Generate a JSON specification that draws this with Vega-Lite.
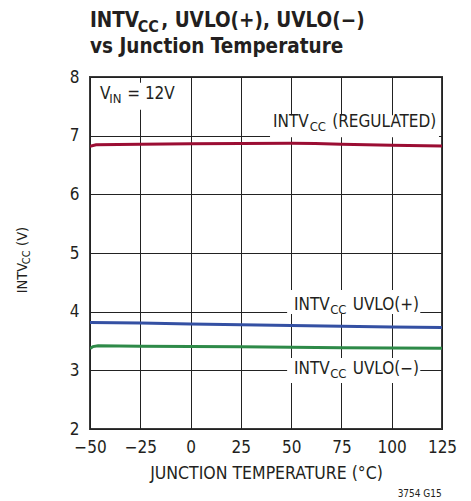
{
  "$schema": "https://vega.github.io/schema/vega-lite/v6.json",
  "autosize": {"type": "none"},
  "padding": {"left": 90, "top": 77, "right": 29, "bottom": 72},
  "width": 352,
  "height": 352,
  "background": "white",
  "config": {
    "view": {"stroke": "#3a3a3a", "strokeWidth": 2},
    "font": "DejaVu Sans Condensed, Roboto, sans-serif",
    "text": {"font": "DejaVu Sans Condensed, Roboto, sans-serif", "color": "#231f20"}
  },
  "datasets": {
    "curves": [
      {"series": "REG", "temp": -50, "v": 6.82},
      {"series": "REG", "temp": -47, "v": 6.845},
      {"series": "REG", "temp": -25, "v": 6.855},
      {"series": "REG", "temp": 0, "v": 6.862},
      {"series": "REG", "temp": 25, "v": 6.868},
      {"series": "REG", "temp": 50, "v": 6.872},
      {"series": "REG", "temp": 62, "v": 6.866},
      {"series": "REG", "temp": 75, "v": 6.852},
      {"series": "REG", "temp": 100, "v": 6.836},
      {"series": "REG", "temp": 125, "v": 6.824},
      {"series": "UVLO+", "temp": -50, "v": 3.817},
      {"series": "UVLO+", "temp": -25, "v": 3.806},
      {"series": "UVLO+", "temp": 0, "v": 3.79},
      {"series": "UVLO+", "temp": 25, "v": 3.776},
      {"series": "UVLO+", "temp": 50, "v": 3.764},
      {"series": "UVLO+", "temp": 75, "v": 3.753},
      {"series": "UVLO+", "temp": 100, "v": 3.74},
      {"series": "UVLO+", "temp": 125, "v": 3.728},
      {"series": "UVLO-", "temp": -50, "v": 3.37},
      {"series": "UVLO-", "temp": -48.5, "v": 3.405},
      {"series": "UVLO-", "temp": -46, "v": 3.418},
      {"series": "UVLO-", "temp": -25, "v": 3.412},
      {"series": "UVLO-", "temp": 0, "v": 3.406},
      {"series": "UVLO-", "temp": 25, "v": 3.40},
      {"series": "UVLO-", "temp": 50, "v": 3.393},
      {"series": "UVLO-", "temp": 75, "v": 3.387},
      {"series": "UVLO-", "temp": 100, "v": 3.382},
      {"series": "UVLO-", "temp": 125, "v": 3.376}
    ],
    "boxes": [
      {"t1": -47.5, "t2": -7.7, "v1": 7.9, "v2": 7.44},
      {"t1": 39.5, "t2": 123.5, "v1": 7.35, "v2": 6.975},
      {"t1": 48, "t2": 114.2, "v1": 4.37, "v2": 3.96},
      {"t1": 48, "t2": 114.2, "v1": 3.21, "v2": 2.785}
    ],
    "labels": [
      {"role": "title", "text": "INTV", "temp": -50, "v": 8.857},
      {"role": "titlesub", "text": "CC", "temp": -26.3, "v": 8.857},
      {"role": "title", "text": ", UVLO(+), UVLO(−)", "temp": -14.6, "v": 8.857},
      {"role": "title", "text": "vs Junction Temperature", "temp": -50, "v": 8.404},
      {"role": "label", "text": "V", "temp": -45.0, "v": 7.62},
      {"role": "labelsub", "text": "IN", "temp": -40.4, "v": 7.62},
      {"role": "label", "text": "= 12V", "temp": -31.5, "v": 7.62},
      {"role": "label", "text": "INTV", "temp": 41.0, "v": 7.153},
      {"role": "labelsub", "text": "CC", "temp": 59.2, "v": 7.153},
      {"role": "label", "text": "(REGULATED)", "temp": 70.4, "v": 7.153},
      {"role": "label", "text": "INTV", "temp": 51.4, "v": 4.03},
      {"role": "labelsub", "text": "CC", "temp": 69.4, "v": 4.03},
      {"role": "label", "text": "UVLO(+)", "temp": 80.6, "v": 4.03},
      {"role": "label", "text": "INTV", "temp": 51.4, "v": 2.937},
      {"role": "labelsub", "text": "CC", "temp": 69.4, "v": 2.937},
      {"role": "label", "text": "UVLO(−)", "temp": 80.6, "v": 2.937},
      {"role": "ytitle", "text": "INTV", "temp": -81.5, "v": 4.313},
      {"role": "ytitlesub", "text": "CC", "temp": -81.5, "v": 4.81},
      {"role": "ytitle", "text": "(V)", "temp": -81.5, "v": 5.12},
      {"role": "code", "text": "3754 G15", "temp": 124.9, "v": 0.846}
    ]
  },
  "layer": [
    {
      "data": {"name": "curves"},
      "mark": {"type": "line", "strokeWidth": 3, "clip": true},
      "encoding": {
        "x": {
          "field": "temp", "type": "quantitative",
          "scale": {"domain": [-50, 125], "nice": false, "zero": false},
          "axis": {
            "values": [-50, -25, 0, 25, 50, 75, 100, 125],
            "labelExpr": "datum.value < 0 ? '−' + abs(datum.value) : datum.value",
            "title": "JUNCTION TEMPERATURE (°C)",
            "titleFont": "DejaVu Sans Condensed, Roboto, sans-serif", "titleFontWeight": "normal", "titleFontSize": 17.5, "titleColor": "#231f20",
            "titlePadding": 9,
            "labelFont": "DejaVu Sans Condensed, Roboto, sans-serif", "labelFontSize": 17, "labelColor": "#231f20",
            "labelPadding": 10, "ticks": false, "domain": false,
            "grid": true, "gridColor": "#222222", "gridWidth": 1, "gridOpacity": 1,
            "labelOverlap": false, "labelFlush": false
          }
        },
        "y": {
          "field": "v", "type": "quantitative",
          "scale": {"domain": [2, 8], "nice": false, "zero": false},
          "axis": {
            "values": [2, 3, 4, 5, 6, 7, 8],
            "format": "d",
            "title": "",
            "labelFont": "DejaVu Sans Condensed, Roboto, sans-serif", "labelFontSize": 17, "labelColor": "#231f20",
            "labelPadding": 11, "ticks": false, "domain": false,
            "grid": true, "gridColor": "#222222", "gridWidth": 1, "gridOpacity": 1,
            "labelOverlap": false, "labelFlush": false
          }
        },
        "color": {
          "field": "series", "type": "nominal", "legend": null,
          "scale": {"domain": ["REG", "UVLO+", "UVLO-"], "range": ["#9b0d33", "#3450a3", "#2e8a48"]}
        }
      }
    },
    {
      "data": {"name": "boxes"},
      "mark": {"type": "rect", "color": "white"},
      "encoding": {
        "x": {"field": "t1", "type": "quantitative"},
        "x2": {"field": "t2"},
        "y": {"field": "v1", "type": "quantitative"},
        "y2": {"field": "v2"}
      }
    },
    {
      "data": {"name": "labels"},
      "transform": [{"filter": "datum.role == 'title'"}],
      "mark": {"type": "text", "align": "left", "baseline": "alphabetic", "fontSize": 20.5, "fontWeight": "bold", "clip": false},
      "encoding": {
        "x": {"field": "temp", "type": "quantitative"},
        "y": {"field": "v", "type": "quantitative"},
        "text": {"field": "text"}
      }
    },
    {
      "data": {"name": "labels"},
      "transform": [{"filter": "datum.role == 'titlesub'"}],
      "mark": {"type": "text", "align": "left", "baseline": "alphabetic", "fontSize": 16, "fontWeight": "bold", "dy": 5},
      "encoding": {
        "x": {"field": "temp", "type": "quantitative"},
        "y": {"field": "v", "type": "quantitative"},
        "text": {"field": "text"}
      }
    },
    {
      "data": {"name": "labels"},
      "transform": [{"filter": "datum.role == 'label'"}],
      "mark": {"type": "text", "align": "left", "baseline": "alphabetic", "fontSize": 17},
      "encoding": {
        "x": {"field": "temp", "type": "quantitative"},
        "y": {"field": "v", "type": "quantitative"},
        "text": {"field": "text"}
      }
    },
    {
      "data": {"name": "labels"},
      "transform": [{"filter": "datum.role == 'labelsub'"}],
      "mark": {"type": "text", "align": "left", "baseline": "alphabetic", "fontSize": 13, "dy": 4},
      "encoding": {
        "x": {"field": "temp", "type": "quantitative"},
        "y": {"field": "v", "type": "quantitative"},
        "text": {"field": "text"}
      }
    },
    {
      "data": {"name": "labels"},
      "transform": [{"filter": "datum.role == 'ytitle'"}],
      "mark": {"type": "text", "align": "left", "baseline": "alphabetic", "fontSize": 14.5, "angle": 270},
      "encoding": {
        "x": {"field": "temp", "type": "quantitative"},
        "y": {"field": "v", "type": "quantitative"},
        "text": {"field": "text"}
      }
    },
    {
      "data": {"name": "labels"},
      "transform": [{"filter": "datum.role == 'ytitlesub'"}],
      "mark": {"type": "text", "align": "left", "baseline": "alphabetic", "fontSize": 11, "angle": 270, "dy": 3},
      "encoding": {
        "x": {"field": "temp", "type": "quantitative"},
        "y": {"field": "v", "type": "quantitative"},
        "text": {"field": "text"}
      }
    },
    {
      "data": {"name": "labels"},
      "transform": [{"filter": "datum.role == 'code'"}],
      "mark": {"type": "text", "align": "right", "baseline": "alphabetic", "fontSize": 10},
      "encoding": {
        "x": {"field": "temp", "type": "quantitative"},
        "y": {"field": "v", "type": "quantitative"},
        "text": {"field": "text"}
      }
    }
  ]
}
